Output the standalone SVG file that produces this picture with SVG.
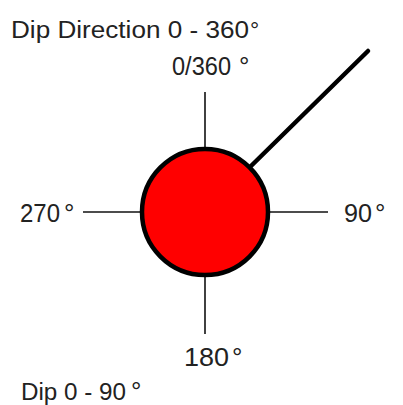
<svg xmlns="http://www.w3.org/2000/svg" width="403" height="405" viewBox="0 0 403 405">
<style>
text{font-family:"Liberation Sans",Arial,sans-serif;font-size:26px;fill:#222}
.title{font-size:23px}
.deg{font-size:26px}
.axis{stroke:#111;stroke-width:1.6;fill:none}
.dip{stroke:#000;stroke-width:4.5;stroke-linecap:round}
</style>
<rect width="403" height="405" fill="#fff"/>
<g id="connectors">
<line class="axis" x1="205" y1="92" x2="205" y2="152"/>
<line class="axis" x1="205" y1="272" x2="205" y2="334"/>
<line class="axis" x1="83" y1="212" x2="142" y2="212"/>
<line class="axis" x1="268" y1="212" x2="328" y2="212"/>
<line class="dip" x1="251" y1="166" x2="368" y2="51"/>
</g>
<g id="pole">
<circle cx="205" cy="212" r="63" fill="#ff0000" stroke="#000" stroke-width="4.5"/>
</g>
<g id="label-dipdir"><text class="title" x="11" y="38"><tspan textLength="238" lengthAdjust="spacingAndGlyphs">Dip Direction 0 - 360</tspan><tspan x="250">°</tspan></text></g>
<g id="label-0"><text x="172" y="75"><tspan textLength="59" lengthAdjust="spacingAndGlyphs">0/360</tspan><tspan class="deg" x="239">°</tspan></text></g>
<g id="label-270"><text x="20" y="222"><tspan textLength="40" lengthAdjust="spacingAndGlyphs">270</tspan><tspan class="deg" x="64">°</tspan></text></g>
<g id="label-90"><text x="344" y="222"><tspan textLength="28" lengthAdjust="spacingAndGlyphs">90</tspan><tspan class="deg" x="375">°</tspan></text></g>
<g id="label-180"><text x="184" y="366"><tspan textLength="45" lengthAdjust="spacingAndGlyphs">180</tspan><tspan class="deg" x="232">°</tspan></text></g>
<g id="label-dip"><text class="title" x="21" y="400"><tspan textLength="105" lengthAdjust="spacingAndGlyphs">Dip 0 - 90</tspan><tspan class="deg" x="131">°</tspan></text></g>
</svg>
